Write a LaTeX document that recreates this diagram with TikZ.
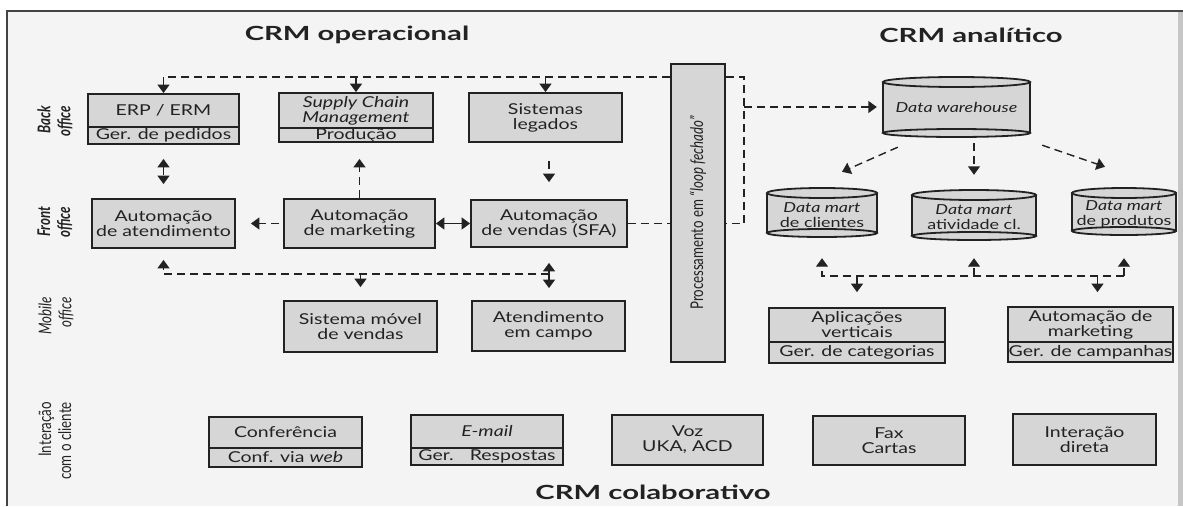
\documentclass[tikz,border=0pt]{standalone}
\usepackage{fontspec}
\setmainfont{Lato}[FakeStretch=1.3]
\newfontfamily\sidefont{Lato}[FakeStretch=0.76]
\newfontfamily\titlefont{Lato}[FakeStretch=1.5]
\usetikzlibrary{arrows.meta}
\definecolor{boxfill}{HTML}{D6D6D6}
\definecolor{bgcol}{HTML}{F4F4F4}
\definecolor{ink}{HTML}{222222}

\tikzset{
  boxshape/.style={draw=ink, line width=1.8pt, fill=boxfill, inner sep=0pt},
  txt/.style={inner sep=0pt, align=center, font=\fontsize{15}{15}\selectfont, text=ink},
  cyltxt/.style={inner sep=0pt, align=center, font=\fontsize{13.8}{15}\selectfont, text=ink},
  conn/.style={draw=ink, line width=1.4pt, dash pattern=on 8pt off 5pt},
  solidconn/.style={draw=ink, line width=1.4pt},
  titletext/.style={inner sep=0pt, text=ink, font=\titlefont\bfseries\fontsize{19.5}{20}\selectfont},
  sidetext/.style={inner sep=0pt, rotate=90, align=right, text=ink, font=\sidefont\fontsize{17.5}{20}\selectfont},
}

\newcommand\plainbox[6]{%
  \node[boxshape, txt, minimum width={#4-#2}, minimum height={#5-#3}] (#1) at ({(#2+#4)/2},{(#3+#5)/2}) {#6};}
\newcommand\splitbox[8]{%
  \node[boxshape, minimum width={#4-#2}, minimum height={#5-#3}] (#1) at ({(#2+#4)/2},{(#3+#5)/2}) {};
  \draw[ink, line width=1.8pt] (#2,#6) -- (#4,#6);
  \node[txt] (#1-top) at ({(#2+#4)/2},{(#3+#6)/2}) {#7};
  \node[txt] (#1-bot) at ({(#2+#4)/2},{(#6+#5)/2}) {#8};}
\newcommand\dbcyl[7]{%
  \fill[boxfill] (#2,{#3+5}) rectangle (#4,{#5-4});
  \draw[ink, line width=1.8pt] (#2,{#3+5}) -- (#2,{#5-4}) (#4,{#3+5}) -- (#4,{#5-4});
  \draw[ink, line width=1.8pt, fill=boxfill] ({(#2+#4)/2},{#5-4}) ellipse ({(#4-#2)/2} and 4);
  \draw[ink, line width=1.8pt, fill=boxfill] ({(#2+#4)/2},{#3+5}) ellipse ({(#4-#2)/2} and 5);
  \node[inner sep=0pt, minimum width={#4-#2}, minimum height={#5-#3}] (#1) at ({(#2+#4)/2},{(#3+#5)/2}) {};
  \node[cyltxt] (#1-t) at ({(#2+#4)/2},#6) {#7};}

\begin{document}
\begin{tikzpicture}[x=1pt, y=-1pt, >={Triangle[length=8.5pt,width=12pt]}]
\useasboundingbox (0,0) rectangle (1183,506);
\fill[white] (0,0) rectangle (1183,506);
\fill[bgcol] (7,11) rectangle (1183,506);
\fill[gray!45] (1178,11) rectangle (1183,506);
\draw[ink!85, line width=1.5pt] (7,506) -- (7,11) -- (1183,11);

% titles
\node[titletext] (t1) at (357,35) {CRM operacional};
\node[titletext] (t2) at (971,35) {CRM analítico};
\node[titletext] (t3) at (653,492) {CRM colaborativo};

% side labels
\node[sidetext, font=\sidefont\bfseries\itshape\fontsize{17.5}{20}\selectfont] (s1) at (55,121) {Back\\office};
\node[sidetext, font=\sidefont\bfseries\itshape\fontsize{17.5}{20}\selectfont] (s2) at (55,222) {Front\\office};
\node[sidetext, font=\sidefont\itshape\fontsize{17.5}{20}\selectfont] (s3) at (56,316) {Mobile\\office};
\node[sidetext] (s4) at (55,441) {Interação\\com o cliente};

% back office
\splitbox{erp}{88}{94}{239}{144}{127}{ERP / ERM}{Ger. de pedidos}
\splitbox{scm}{279}{93}{433}{142}{128}{\itshape Supply Chain\\\itshape Management}{Produção}
\plainbox{leg}{469}{93}{622}{142}{Sistemas\\legados}

% front office
\plainbox{atd}{92}{199}{235}{248}{Automação\\de atendimento}
\plainbox{mkt}{284}{199}{435}{248}{Automação\\de marketing}
\plainbox{sfa}{471}{200}{627}{247}{Automação\\de vendas (SFA)}

% mobile office
\plainbox{mov}{284}{301}{437}{352}{Sistema móvel\\de vendas}
\plainbox{cmp}{472}{301}{625}{351}{Atendimento\\em campo}

% closed loop bar
\node[boxshape, minimum width=54, minimum height=298] (bar) at (698,213) {};
\node[sidetext] (bartxt) at (bar.center) {Processamento em \textit{“loop fechado”}};

% analytic
\dbcyl{dw}{883}{77}{1030}{137}{107}{\itshape Data warehouse}
\dbcyl{dm1}{767}{188}{877}{237}{215}{\itshape Data mart\\de clientes}
\dbcyl{dm2}{912}{190}{1036}{240}{217}{\itshape Data mart\\atividade cl.}
\dbcyl{dm3}{1072}{188}{1176}{235}{214}{\itshape Data mart\\de produtos}
\splitbox{apl}{769}{308}{945}{363}{342}{Aplicações\\verticais}{Ger. de categorias}
\splitbox{amk}{1008}{307}{1173}{362}{342}{Automação de\\marketing}{Ger. de campanhas}

% collaborative
\splitbox{conf}{209}{417}{362}{467}{448}{Conferência}{Conf. via \textit{web}}
\splitbox{mail}{411}{415}{563}{465}{448}{\textit{E-mail}}{Ger.\hspace{16pt}Respostas}
\plainbox{voz}{612}{415}{763}{465}{Voz\\UKA, ACD}
\plainbox{fax}{813}{416}{965}{465}{Fax\\Cartas}
\plainbox{dir}{1013}{414}{1156}{465}{Interação\\direta}

% connectors: top bus
\coordinate (topbus) at (0,77);
\draw[conn,->] (bar.west |- topbus) -| (erp.north);
\draw[conn,->] (scm.north |- topbus) -- (scm.north);
\draw[conn,->] (leg.north |- topbus) -- (leg.north);

% back <-> front
\draw[conn,<->,shorten <=14pt,shorten >=14pt] (erp.south) -- (atd.north);
\draw[conn,->,shorten >=16pt] (mkt.north) -- (mkt.north |- scm.south);
\draw[conn,->,shorten <=18pt,shorten >=17pt] (leg.south -| sfa.north) -- (sfa.north);
\draw[conn,->,shorten <=4pt,shorten >=15pt] (mkt.west) -- (atd.east);
\draw[solidconn,<->] (mkt.east) -- (sfa.west);

% front <-> mobile bus
\coordinate (bbus) at (0,274);
\draw[conn,->,shorten >=11pt] (sfa.south |- bbus) -| (atd.south);
\draw[conn,->,shorten >=13pt] (mov.north |- bbus) -- (mov.north);
\draw[conn,->,shorten >=15pt] (sfa.south |- bbus) -- (sfa.south);
\draw[conn,->,shorten >=12pt] (sfa.south |- bbus) -- (sfa.south |- cmp.north);

% closed loop
\draw[conn] (sfa.east) -- (sfa.east -| bar.west);
\coordinate (lp) at (744,107);
\draw[conn] (bar.east |- topbus) -| (lp) |- (bar.east |- sfa.east);
\draw[conn,->,shorten >=6pt] (lp) -- (lp -| dw.west);

% warehouse -> marts
\draw[conn,->] ([shift={(15pt,-10pt)}]dw.south west) -- ([shift={(20pt,16pt)}]dm1.north);
\draw[conn,->,shorten <=6pt,shorten >=15pt] (dm2.north |- dw.south) -- (dm2.north);
\draw[conn,->] ([shift={(12pt,-8pt)}]dw.south east) -- ([shift={(-19pt,21pt)}]dm3.north);

% marts <-> applications
\coordinate (rbus) at (0,276);
\coordinate (amkin) at ([xshift=7pt]amk.north);
\draw[conn,->,shorten >=21pt] (dm3.south |- rbus) -| (dm1.south);
\draw[conn,->,shorten >=18pt] (dm2.south |- rbus) -- (dm2.south);
\draw[conn,->,shorten >=23pt] (dm3.south |- rbus) -- (dm3.south);
\draw[conn,->,shorten >=15pt] (apl.north |- rbus) -- (apl.north);
\draw[conn,->,shorten >=14pt] (amkin |- rbus) -- (amkin);
\end{tikzpicture}
\end{document}
